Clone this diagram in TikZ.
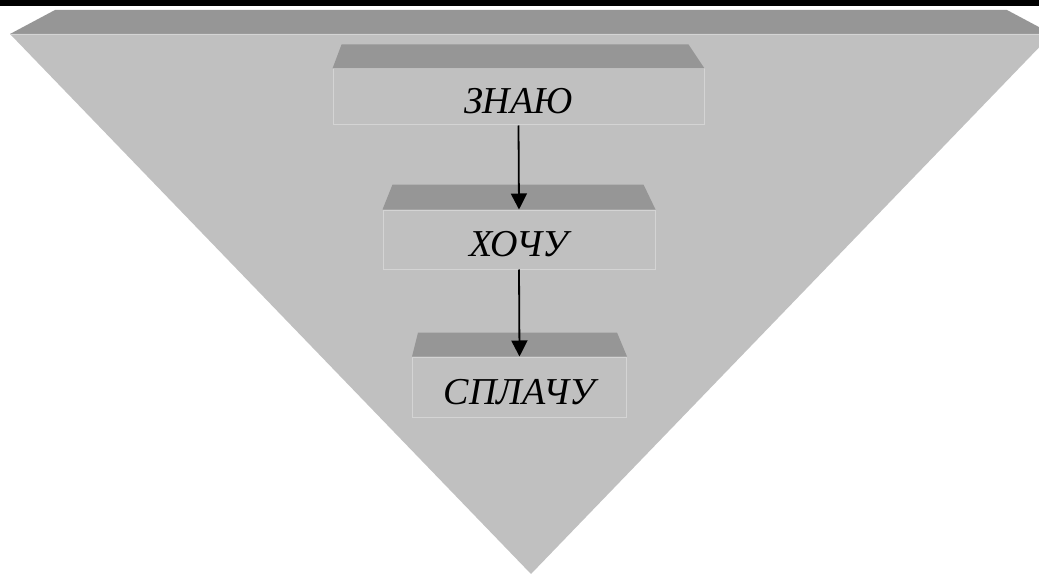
\documentclass[tikz,border=0pt]{standalone}
\usepackage{fontspec}
\setmainfont{Liberation Serif}
\definecolor{FunnelTop}{RGB}{150, 150, 150}
\definecolor{FunnelFront}{RGB}{192, 192, 192}
\definecolor{FunnelEdge}{RGB}{212, 212, 212}
\usetikzlibrary{arrows.meta, positioning, calc}

\tikzset{
  stage/.style={fill=FunnelFront, draw=FunnelEdge, line width=1pt, inner sep=0pt,
    text height=34pt, text depth=0pt, font=\fontsize{38}{42}\selectfont\itshape},
  lid/.style={fill=FunnelTop, draw=none},
  flow/.style={line width=1.8pt, -{Triangle[length=16pt, width=16pt]}}
}

\begin{document}
\begin{tikzpicture}[x=1pt, y=-1pt]
  \useasboundingbox (0,0) rectangle (1039,575);
  \clip (0,0) rectangle (1039,575);
  % black strip on top
  \fill[black] (0,0) rectangle (1039,6);
  % the big funnel
  \fill[FunnelTop] (55,10) -- (1007,10) -- (1052,34) -- (10,34) -- cycle;
  \fill[FunnelFront] (10,34) -- (1052,34) -- (531,574) -- cycle;
  \draw[FunnelEdge, line width=1pt] (10,34.5) -- (1052,34.5);

  % the three stages
  \node[stage, minimum width=371pt, minimum height=56pt] (znayu) at (518.5,97) {ЗНАЮ};
  \node[stage, minimum width=272pt, minimum height=59pt] (khochu) at (519,239.5) {ХОЧУ};
  \node[stage, minimum width=214pt, minimum height=60pt] (splachu) at (519.5,387) {СПЛАЧУ};

  % lids
  \fill[lid] (znayu.north west) -- ++(9,-24) -- ($(znayu.north east)+(-16,-24)$) -- (znayu.north east) -- cycle;
  \fill[lid] (khochu.north west) -- ++(10,-25) -- ($(khochu.north east)+(-12,-25)$) -- (khochu.north east) -- cycle;
  \fill[lid] (splachu.north west) -- ++(6,-24) -- ($(splachu.north east)+(-10,-24)$) -- (splachu.north east) -- cycle;

  \draw[flow] (znayu.south) -- (khochu.north);
  \draw[flow] (khochu.south) -- (splachu.north);
\end{tikzpicture}
\end{document}
